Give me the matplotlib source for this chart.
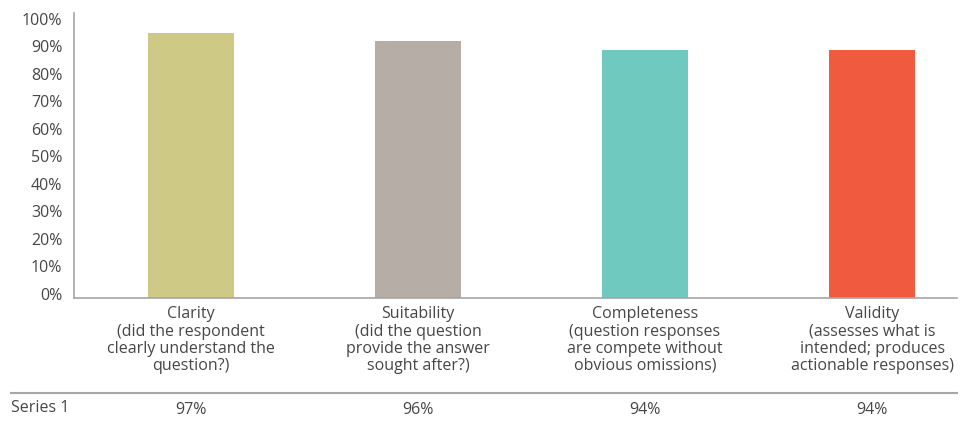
import matplotlib.pyplot as plt
import matplotlib.transforms as mtransforms
from matplotlib.lines import Line2D

plt.rcParams['font.family'] = ['Open Sans', 'DejaVu Sans']

# data
categories = ['Clarity\n(did the respondent\nclearly understand the\nquestion?)',
              'Suitability\n(did the question\nprovide the answer\nsought after?)',
              'Completeness\n(question responses\nare compete without\nobvious omissions)',
              'Validity\n(assesses what is\nintended; produces\nactionable responses)']
bar_values = [0.964, 0.935, 0.902, 0.902]
table_labels = ['97%', '96%', '94%', '94%']
series_name = 'Series 1'
colors = ['#CFC986', '#B5ADA6', '#6FC9BE', '#F05A3F']
yticks = [i / 10 for i in range(11)]

text_col = '#474747'
line_col = '#A6A6A6'
fs = 11.5

fig = plt.figure(figsize=(9.63, 4.23), dpi=100)
ax = fig.add_axes([74 / 963, 125 / 423, 883 / 963, 285 / 423])

x = list(range(len(categories)))
ax.bar(x, bar_values, width=0.379, color=colors)
ax.set_xlim(-0.515, 3.374)
ax.set_ylim(0, 1.036)

ax.set_yticks(yticks)
ax.set_yticklabels([f"{int(round(t * 100))}%" for t in yticks])
ax.set_xticks(x)
ax.set_xticklabels(categories, linespacing=1.1)
ax.tick_params(axis='both', length=0, colors=text_col, labelsize=fs)
ax.tick_params(axis='y', pad=8.5)
ax.tick_params(axis='x', pad=6)

# y labels sit a little above their gridline in the original
off = mtransforms.ScaledTranslation(0, 4 / 100, fig.dpi_scale_trans)
for lbl in ax.get_yticklabels():
    lbl.set_transform(lbl.get_transform() + off)

for s in ['top', 'right']:
    ax.spines[s].set_visible(False)
for s in ['left', 'bottom']:
    ax.spines[s].set_color(line_col)
    ax.spines[s].set_linewidth(1.2)

# data table under the chart
fig.add_artist(Line2D([11 / 963, 957 / 963], [1 - 393 / 423, 1 - 393 / 423],
                      color=line_col, lw=1.5))
fig.text(11 / 963, 1 - 408 / 423, series_name, ha='left', va='center',
         color=text_col, fontsize=fs)
trans = mtransforms.blended_transform_factory(ax.transData, fig.transFigure)
for xi, lab in zip(x, table_labels):
    ax.text(xi, 1 - 410 / 423, lab, transform=trans, ha='center', va='center',
            color=text_col, fontsize=fs, clip_on=False)

fig.savefig('out.png', dpi=100)
